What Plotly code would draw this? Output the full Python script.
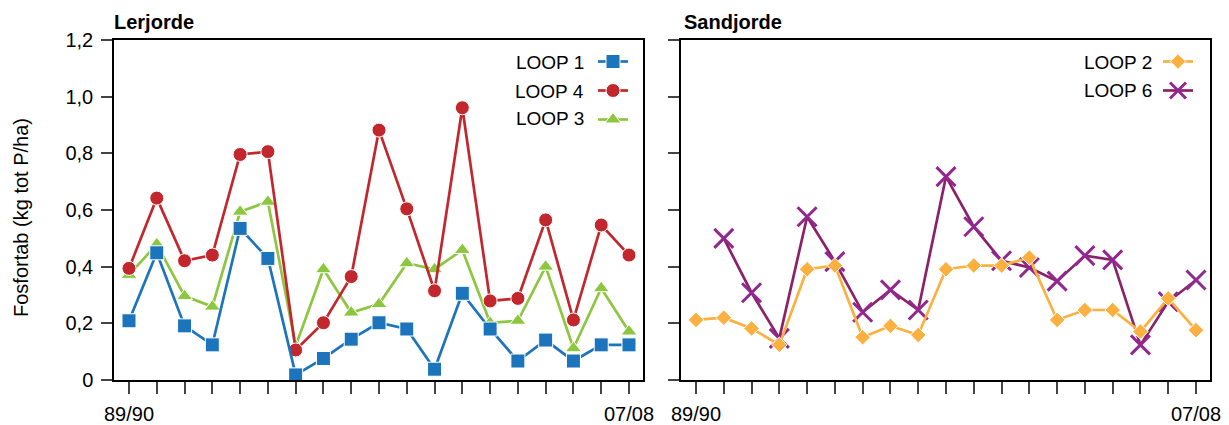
import plotly.graph_objects as go

# ---------------- data ----------------
seasons = ["89/90", "90/91", "91/92", "92/93", "93/94", "94/95", "95/96", "96/97",
           "97/98", "98/99", "99/00", "00/01", "01/02", "02/03", "03/04", "04/05",
           "05/06", "06/07", "07/08"]
x_labels = ["89/90"] + [""] * 17 + ["07/08"]

loop1 = [0.209, 0.449, 0.191, 0.124, 0.535, 0.429, 0.018, 0.076, 0.144, 0.202,
         0.180, 0.038, 0.306, 0.180, 0.067, 0.141, 0.067, 0.124, 0.124]
loop4 = [0.394, 0.642, 0.421, 0.441, 0.796, 0.806, 0.106, 0.202, 0.365, 0.882,
         0.604, 0.315, 0.961, 0.279, 0.288, 0.565, 0.212, 0.547, 0.441]
loop3 = [0.371, 0.479, 0.296, 0.259, 0.594, 0.629, 0.120, 0.391, 0.238, 0.268,
         0.412, 0.391, 0.459, 0.202, 0.209, 0.400, 0.112, 0.324, 0.171]
loop2 = [0.212, 0.220, 0.182, 0.124, 0.391, 0.404, 0.151, 0.191, 0.159, 0.391,
         0.404, 0.404, 0.432, 0.212, 0.247, 0.247, 0.171, 0.288, 0.176]
loop6 = [None, 0.500, 0.308, 0.147, 0.576, 0.418, 0.239, 0.318, 0.247, 0.718,
         0.541, 0.421, 0.397, 0.349, 0.439, 0.424, 0.124, 0.276, 0.353]

y_ticks = [0, 0.2, 0.4, 0.6, 0.8, 1.0, 1.2]
y_labels = ["0", "0,2", "0,4", "0,6", "0,8", "1,0", "1,2"]

FONT = "Liberation Sans, Arial, Helvetica, sans-serif"
idx = list(range(len(seasons)))

fig = go.Figure()

def add(y, name, color, symbol, size, xa, ya, legend, lcolor=None, mline=None):
    fig.add_trace(go.Scatter(
        x=idx, y=y, mode="lines+markers", name="",
        legend=legend, xaxis=xa, yaxis=ya,
        line=dict(color=lcolor or color, width=2.7),
        marker=dict(symbol=symbol, size=size, color=color,
                    line=mline or dict(color="white", width=1)),
        cliponaxis=False, connectgaps=False,
        hovertext=[name] * len(idx), hoverinfo="text+y",
    ))

# left panel (draw order: green, red, blue on top)
add(loop3, "LOOP 3", "#8dc63f", "triangle-up", 14, "x", "y", "legend")
add(loop4, "LOOP 4", "#c1272d", "circle", 14, "x", "y", "legend")
add(loop1, "LOOP 1", "#1c75bc", "square", 14, "x", "y", "legend")
# right panel
add(loop6, "LOOP 6", "#92278f", "x-thin", 19, "x2", "y2", "legend2",
    lcolor="#8b2269", mline=dict(color="#92278f", width=3))
add(loop2, "LOOP 2", "#fbb040", "diamond", 12, "x2", "y2", "legend2")

L, R, T, B = 114, 19, 40, 45
W, H = 1229, 425
pw = W - L - R
ph = H - T - B
def px(x):
    return (x - L) / pw
def py(y):
    return (H - B - y) / ph

xcommon = dict(range=[-0.54, 18.504], tickmode="array", tickvals=idx, ticktext=x_labels,
               ticks="outside", ticklen=12, tickwidth=1.5, tickcolor="#444",
               showline=True, mirror=True, linecolor="black", linewidth=1.5,
               showgrid=False, zeroline=False, ticklabelstandoff=3, automargin=False,
               tickfont=dict(size=20, color="black", family=FONT))
ycommon = dict(range=[0, 1.2], tickmode="array", tickvals=y_ticks, ticktext=y_labels,
               ticks="outside", ticklen=11, tickwidth=1.5, tickcolor="#444",
               showline=True, mirror=True, linecolor="black", linewidth=1.5,
               showgrid=False, zeroline=False, ticklabelstandoff=4, automargin=False,
               tickfont=dict(size=20, color="black", family=FONT))

fig.update_layout(
    width=W, height=H,
    margin=dict(l=L, r=R, t=T, b=B, autoexpand=False),
    paper_bgcolor="white", plot_bgcolor="white",
    font=dict(family=FONT, color="black"),
    xaxis=dict(domain=[0, px(643)], anchor="y", **xcommon),
    xaxis2=dict(domain=[px(681), 1], anchor="y2", **xcommon),
    yaxis=dict(domain=[0, 1], anchor="x", **ycommon),
    yaxis2=dict(domain=[0, 1], anchor="x2", matches="y", showticklabels=False,
                **{k: v for k, v in ycommon.items() if k not in ("range",)}),
    showlegend=True,
    legend=dict(x=px(593), xanchor="left", y=py(42), yanchor="top",
                traceorder="reversed", bgcolor="rgba(0,0,0,0)",
                font=dict(size=20, family=FONT), itemwidth=30),
    legend2=dict(x=px(1158), xanchor="left", y=py(42), yanchor="top",
                 traceorder="reversed", bgcolor="rgba(0,0,0,0)",
                 font=dict(size=20, family=FONT), itemwidth=30),
)

annotations = [
    dict(text="<b>Lerjorde</b>", x=px(112), y=py(22), xanchor="left", yanchor="middle",
         font=dict(size=20)),
    dict(text="<b>Sandjorde</b>", x=px(682), y=py(22), xanchor="left", yanchor="middle",
         font=dict(size=20)),
    dict(text="Fosfortab (kg tot P/ha)", x=px(21), y=py(218), xanchor="center",
         yanchor="middle", textangle=-90, font=dict(size=20)),
]
for name, yy in zip(["LOOP 1", "LOOP 4", "LOOP 3"], [62, 91, 119]):
    annotations.append(dict(text=name, x=px(586), y=py(yy), xanchor="right",
                            yanchor="middle", font=dict(size=19)))
for name, yy in zip(["LOOP 2", "LOOP 6"], [62, 90]):
    annotations.append(dict(text=name, x=px(1154), y=py(yy), xanchor="right",
                            yanchor="middle", font=dict(size=19)))
for a in annotations:
    a.update(xref="paper", yref="paper", showarrow=False)
    a.setdefault("font", {})
    a["font"].update(family=FONT, color="black")
fig.update_layout(annotations=annotations)

fig.write_html("out.html")
